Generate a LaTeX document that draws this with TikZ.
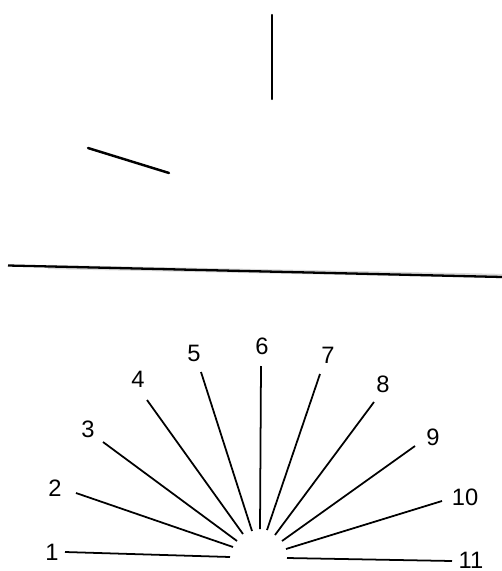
\documentclass[tikz,border=0pt]{standalone}
\usepackage{fontspec}
\setsansfont{Liberation Sans}
\usepackage{tikz}
\usetikzlibrary{positioning, calc}

\begin{document}
\begin{tikzpicture}[
        x=0.2mm, y=-0.2mm,
        stim/.style={line width=1.4pt, line cap=round},
        ray/.style={line width=1pt},
        num/.style={inner sep=0pt, font=\sffamily\fontsize{13.5}{15}\selectfont}
    ]
    \useasboundingbox (0,0) rectangle (502,571);

    % ---- Stimulus: the two lines to be matched ----
    \coordinate (Sa1) at (272, 15);
    \coordinate (Sa2) at (272, 99);
    \coordinate (Sb1) at (88, 148);
    \coordinate (Sb2) at (169, 173);
    \draw[stim] (Sa1)--(Sa2);
    \draw[stim] (Sb1)--(Sb2);

    % Separator between stimulus and response card
    \coordinate (Sep1) at (8, 265.5);
    \coordinate (Sep2) at (502, 277);
    \draw[line width=2.4pt, gray!30] ($(Sep1)+(40,1.5)$)--($(Sep2)+(0,-1)$);
    \draw[line width=1.3pt] (Sep1)--(Sep2);

    % ---- Response card: eleven numbered rays ----
    % outer ends
    \coordinate (O1)  at (65, 552);
    \coordinate (O2)  at (76, 493);
    \coordinate (O3)  at (103, 442);
    \coordinate (O4)  at (147, 400);
    \coordinate (O5)  at (201, 372);
    \coordinate (O6)  at (261, 366);
    \coordinate (O7)  at (320, 374);
    \coordinate (O8)  at (374, 402);
    \coordinate (O9)  at (415, 446);
    \coordinate (O10) at (442, 501);
    \coordinate (O11) at (452, 561);
    % inner ends
    \coordinate (I1)  at (230, 557);
    \coordinate (I2)  at (233, 547);
    \coordinate (I3)  at (237, 541);
    \coordinate (I4)  at (243, 534);
    \coordinate (I5)  at (252, 531);
    \coordinate (I6)  at (260, 529);
    \coordinate (I7)  at (267, 530);
    \coordinate (I8)  at (275, 535);
    \coordinate (I9)  at (282, 541);
    \coordinate (I10) at (286, 549);
    \coordinate (I11) at (287, 558);

    \draw[ray] (O1)--(I1);   \draw[ray] (O2)--(I2);
    \draw[ray] (O3)--(I3);   \draw[ray] (O4)--(I4);
    \draw[ray] (O5)--(I5);   \draw[ray] (O6)--(I6);
    \draw[ray] (O7)--(I7);   \draw[ray] (O8)--(I8);
    \draw[ray] (O9)--(I9);   \draw[ray] (O10)--(I10);
    \draw[ray] (O11)--(I11);

    % numbers
    \node[num] (n1)  at (52, 552)  {1};
    \node[num] (n2)  at (55, 488)  {2};
    \node[num] (n3)  at (88, 429)  {3};
    \node[num] (n4)  at (138, 379) {4};
    \node[num] (n5)  at (194, 353) {5};
    \node[num] (n6)  at (262, 346) {6};
    \node[num] (n7)  at (328, 355) {7};
    \node[num] (n8)  at (383, 384) {8};
    \node[num] (n9)  at (433, 437) {9};
    \node[num] (n10) at (465, 497) {10};
    \node[num] (n11) at (471, 560) {11};

\end{tikzpicture}
\end{document}
